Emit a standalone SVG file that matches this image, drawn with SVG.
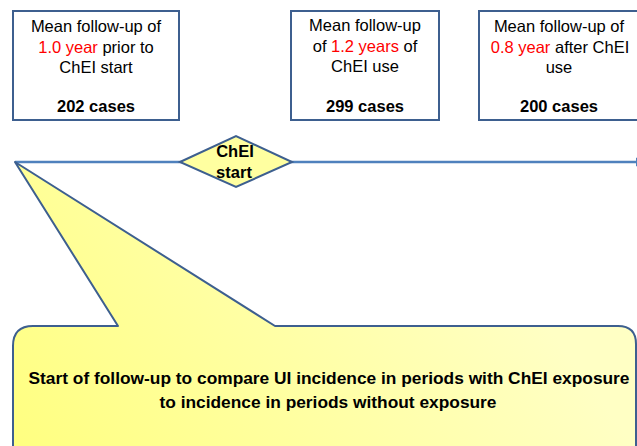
<svg xmlns="http://www.w3.org/2000/svg" width="637" height="446" viewBox="0 0 637 446">
<defs>
<style>
.box{fill:#ffffff;stroke:#3d5f8f;stroke-width:2}
.t{font-family:"Liberation Sans",Arial,sans-serif;font-size:16.5px;fill:#000;text-anchor:middle}
.b{font-weight:bold}
.red{fill:#ff0000}
.conn{stroke:#4f81bd;stroke-width:2.5;fill:none}
.ct{font-size:17px}
</style>
<linearGradient id="yg" gradientUnits="userSpaceOnUse" x1="13" y1="446" x2="420" y2="150">
<stop offset="0" stop-color="#ffff80"/>
<stop offset="1" stop-color="#ffffc4"/>
</linearGradient>
</defs>
<rect width="637" height="446" fill="#ffffff"/>
<g id="connectors">
<line class="conn" x1="15" y1="162" x2="636" y2="162"/>
<polygon points="636,157.5 646,162 636,166.5" fill="#4f81bd"/>
</g>
<g id="box1">
<rect class="box" x="13" y="11" width="166" height="109"/>
<text class="t" x="96" y="32">Mean follow-up of</text>
<text class="t" x="96" y="53"><tspan class="red">1.0 year</tspan> prior to</text>
<text class="t" x="96" y="73">ChEI start</text>
<text class="t b" x="96" y="112">202 cases</text>
</g>
<g id="box2">
<rect class="box" x="291" y="11" width="148" height="109"/>
<text class="t" x="365" y="31">Mean follow-up</text>
<text class="t" x="365" y="52">of <tspan class="red">1.2 years</tspan> of</text>
<text class="t" x="365" y="72">ChEI use</text>
<text class="t b" x="365" y="112">299 cases</text>
</g>
<g id="box3">
<rect class="box" x="479" y="11" width="162" height="109"/>
<text class="t" x="559" y="32">Mean follow-up of</text>
<text class="t" x="560" y="53"><tspan class="red">0.8 year</tspan> after ChEI</text>
<text class="t" x="559" y="73">use</text>
<text class="t b" x="559" y="112">200 cases</text>
</g>
<g id="chei-start">
<polygon points="180,162 236,136 292,162 236,187" fill="#ffffa0" stroke="#3d5f8f" stroke-width="2"/>
<text class="t b" x="235" y="157">ChEI</text>
<text class="t b" x="234" y="178">start</text>
</g>
<g id="callout">
<path d="M118,326 L15,162 L275,326 L618,326 Q636,326 636,344 L636,470 L13,470 L13,346 Q13,326 33,326 Z" fill="url(#yg)" stroke="#3d5f8f" stroke-width="2" stroke-linejoin="round"/>
<text class="t b ct" x="329" y="384" textLength="601" lengthAdjust="spacingAndGlyphs">Start of follow-up to compare UI incidence in periods with ChEI exposure</text>
<text class="t b ct" x="328" y="408" textLength="337" lengthAdjust="spacingAndGlyphs">to incidence in periods without exposure</text>
</g>
</svg>
